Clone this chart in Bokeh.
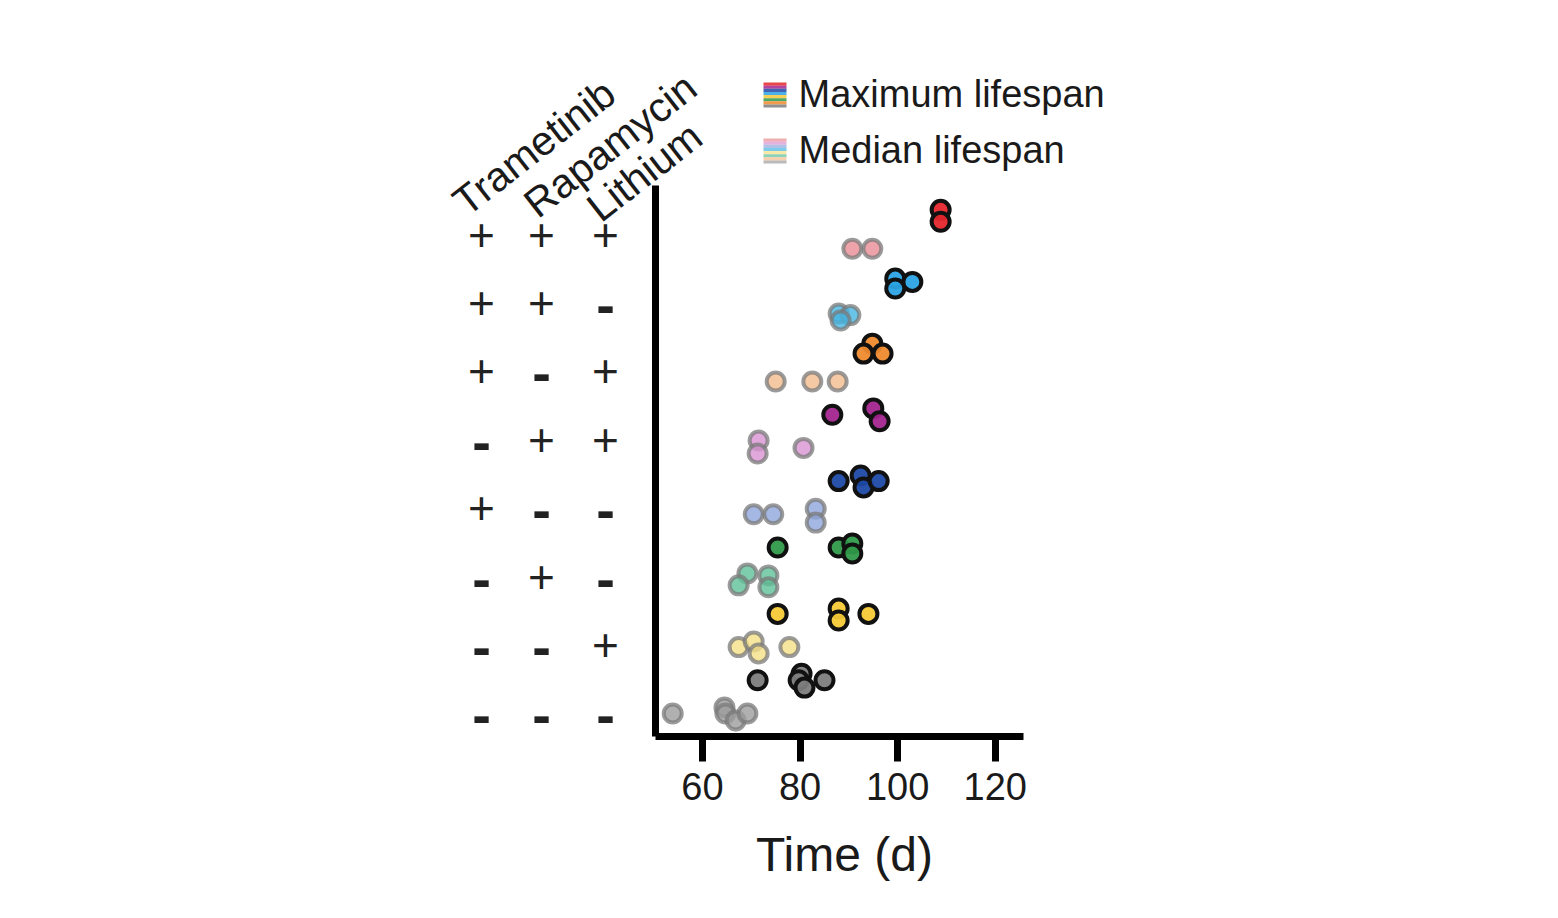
from bokeh.plotting import figure
from bokeh.models import Range1d, FixedTicker, Label, ColumnDataSource
from bokeh.embed import file_html
from bokeh.resources import INLINE

# ---------------- data (groups listed top to bottom) ----------------
trametinib = ["+", "+", "+", "-", "+", "-", "-", "-"]
rapamycin  = ["+", "+", "-", "+", "-", "+", "-", "-"]
lithium    = ["+", "-", "+", "+", "-", "-", "+", "-"]

max_lifespan = [
    [108.8, 108.8],
    [99.5, 103.0, 99.5],
    [94.8, 93.0, 96.9],
    [86.6, 95.0, 96.3],
    [87.9, 92.4, 93.0, 96.1],
    [75.4, 87.9, 90.7, 90.7],
    [75.4, 87.9, 87.9, 94.0],
    [71.3, 80.3, 79.7, 80.9, 85.0],
]
max_jitter = [
    [0.17, -0.19],
    [0.10, 0.0, -0.20],
    [0.14, -0.16, -0.16],
    [0.0, 0.19, -0.20],
    [0.0, 0.17, -0.19, 0.0],
    [0.0, 0.0, 0.12, -0.18],
    [0.0, 0.16, -0.20, 0.0],
    [0.0, 0.20, 0.0, -0.22, 0.0],
]
median_lifespan = [
    [90.7, 94.8],
    [87.9, 90.3, 88.3],
    [75.0, 82.5, 87.7],
    [71.5, 71.3, 80.7],
    [70.5, 74.5, 83.2, 83.2],
    [69.2, 67.4, 73.5, 73.5],
    [67.4, 70.5, 71.5, 77.8],
    [53.9, 64.5, 64.7, 66.8, 69.2],
]
median_jitter = [
    [0.0, 0.0],
    [0.05, 0.0, -0.16],
    [0.0, 0.0, 0.0],
    [0.22, -0.17, 0.0],
    [0.0, 0.0, 0.17, -0.25],
    [0.22, -0.14, 0.16, -0.20],
    [0.0, 0.17, -0.19, 0.0],
    [0.0, 0.18, 0.0, -0.21, 0.0],
]
max_colors = ["#e4262c", "#2ba3e4", "#ef8a2e", "#a3258f", "#1e49a6", "#2f9a4a", "#f5c937", "#7d7d7d"]
med_colors = ["#e88c93", "#45b5e2", "#f4bc8e", "#d892d2", "#8ea6dc", "#5ec197", "#f5e085", "#9c9c9c"]
x_ticks = [60, 80, 100, 120]
drug_names = ["Trametinib", "Rapamycin", "Lithium"]
legend_labels = ["Maximum lifespan", "Median lifespan"]

# ---------------- layout helpers (page pixel -> data) ----------------
def xd(px):
    return 60 + (px - 702) / 4.88

def yd(py):
    return (713 - py) / 33.2

FONT = "Liberation Sans"
n = len(max_lifespan)
# frame is symmetric around the x-axis label centre (~844 px)
FL, FR, FT, FB = 430, 1258, 55, 736
W, H = FR + 10, 912

p = figure(width=W, height=H, title=None,
           x_range=Range1d(xd(FL), xd(FR)), y_range=Range1d(yd(FB), yd(FT)),
           y_axis_location=None,
           output_backend="svg", toolbar_location=None,
           min_border_left=FL, min_border_right=W - FR, min_border_top=FT, min_border_bottom=H - FB)
p.outline_line_color = None
p.grid.visible = False
p.background_fill_color = "white"
p.border_fill_color = "white"

# points
for i in range(n):
    row_max = 2 * (n - 1 - i) + 1
    row_med = 2 * (n - 1 - i)
    src_med = ColumnDataSource(dict(x=median_lifespan[i],
                                    y=[row_med + j for j in median_jitter[i]]))
    p.scatter("x", "y", source=src_med, size=18, fill_color=med_colors[i], fill_alpha=0.8,
              line_color="#7a7a7a", line_alpha=0.75, line_width=4)
    src_max = ColumnDataSource(dict(x=max_lifespan[i],
                                    y=[row_max + j for j in max_jitter[i]]))
    p.scatter("x", "y", source=src_max, size=18, fill_color=max_colors[i], fill_alpha=0.95,
              line_color="#111111", line_width=4)

# x axis (bounded to the data region)
xa = p.xaxis[0]
xa.bounds = (xd(655), xd(1023))
xa.ticker = FixedTicker(ticks=x_ticks)
xa.axis_line_width = 7
xa.axis_line_color = "black"
xa.major_tick_line_width = 7
xa.major_tick_line_color = "black"
xa.major_tick_out = 25
xa.major_tick_in = 0
xa.minor_tick_line_color = None
xa.major_label_text_font = FONT
xa.major_label_text_font_size = "38px"
xa.major_label_text_color = "#1a1a1a"
xa.major_label_standoff = 11
xa.axis_label = "Time (d)"
xa.axis_label_text_font = FONT
xa.axis_label_text_font_size = "48px"
xa.axis_label_text_font_style = "normal"
xa.axis_label_text_color = "#1a1a1a"
xa.axis_label_standoff = 25

# y axis line (no ticks in the original)
p.segment(x0=[xd(655)], y0=[yd(739.5)], x1=[xd(655)], y1=[yd(185)],
          line_width=7, line_color="black")

# drug table
col_px = [481, 541, 605]
for i in range(n):
    py = 234 + 68.4 * i
    for c, col in enumerate([trametinib, rapamycin, lithium]):
        sign = col[i]
        if sign == "+":
            p.add_layout(Label(x=xd(col_px[c]), y=yd(py), text=sign,
                               text_font=FONT, text_font_size="46px",
                               text_color="#222222", text_align="center", text_baseline="middle"))
        else:
            p.add_layout(Label(x=xd(col_px[c]), y=yd(py + 2), text=sign,
                               text_font=FONT, text_font_size="56px", text_font_style="bold",
                               text_color="#222222", text_align="center", text_baseline="middle"))

# rotated headers
head_px = [(458, 206), (529, 208), (592, 212)]
for name, (hx, hy) in zip(drug_names, head_px):
    p.add_layout(Label(x=xd(hx), y=yd(hy), text=name, angle=38, angle_units="deg",
                       text_font=FONT, text_font_size="41px", text_color="#1a1a1a",
                       text_align="left", text_baseline="alphabetic"))

# legend: striped swatches + labels
sw_left, sw_right = xd(763), xd(786)
for k, (top_py, cols) in enumerate([(82, max_colors), (138, med_colors)]):
    h = 25 / len(cols)
    order = [cols[0], cols[3], cols[4], cols[1], cols[6], cols[5], cols[2], cols[7]]
    tops = [yd(top_py + h * s) for s in range(len(order))]
    bottoms = [yd(top_py + h * (s + 1)) for s in range(len(order))]
    p.quad(left=sw_left, right=sw_right, top=tops, bottom=bottoms, fill_color=order,
           fill_alpha=0.85 if k == 0 else 0.7, line_color=None)
    p.add_layout(Label(x=xd(798), y=yd(top_py + 11), text=legend_labels[k],
                       text_font=FONT, text_font_size="38px", text_color="#1a1a1a",
                       text_align="left", text_baseline="middle"))

open("out.html", "w").write(file_html(p, INLINE))
